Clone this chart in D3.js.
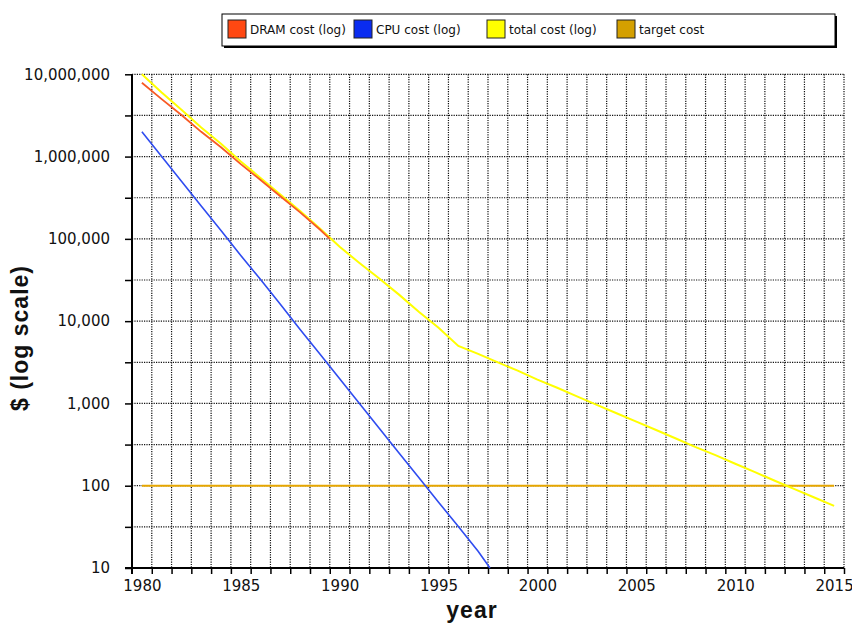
<!DOCTYPE html>
<html>
<head>
<meta charset="utf-8">
<script src="https://cdn.jsdelivr.net/npm/d3@7"></script>
<style>
  body { margin: 0; background: #fff; }
  svg { display: block; }
</style>
</head>
<body>
<script>
// values
var dramYears = [1980, 1981, 1982, 1983, 1984, 1985, 1986, 1987, 1988, 1989, 1989.5];
var dramCost = [7.9e6, 5.0e6, 3.2e6, 2.0e6, 1.3e6, 8.1e5, 5.2e5, 3.3e5, 2.1e5, 1.3e5, 1.0e5];

var cpuYears = [1980, 1981, 1982, 1983, 1984, 1985, 1986, 1987, 1988, 1989, 1990,
  1991, 1992, 1993, 1994, 1995, 1996, 1997, 1997.6];
var cpuCost = [2.0e6, 1.0e6, 5.0e5, 2.5e5, 1.26e5, 6.3e4, 3.2e4, 1.6e4, 7.9e3, 4.0e3, 2.0e3,
  1000, 500, 250, 126, 63, 32, 16, 10];

var totalYears = d3.range(1980, 2016);
var totalCost = [1.0e7, 6.0e6, 3.7e6, 2.25e6, 1.43e6, 8.7e5, 5.5e5, 3.46e5, 2.18e5, 1.34e5,
  8.0e4, 5.1e4, 3.3e4, 2.1e4, 1.3e4, 8.3e3, 5.0e3, 4.0e3, 3.15e3, 2.5e3,
  1950, 1550, 1220, 960, 760, 600, 475, 375, 295, 235,
  185, 146, 115, 91, 72, 57];

var targetYears = [1980, 2015];
var targetCost = [100, 100];

var yearLabels = [1980, 1985, 1990, 1995, 2000, 2005, 2010, 2015];
var costLabels = [10, 100, 1000, 10000, 100000, 1000000, 10000000];

var legendNames = ["DRAM cost (log)", "CPU cost (log)", "total cost (log)", "target cost"];
var legendColors = ["#ff4812", "#0a2cf0", "#ffff00", "#d4a000"];

var width = 852, height = 626;
var plotLeft = 132, plotRight = 844, plotTop = 74.3, plotBottom = 568;

var svg = d3.select("body").append("svg").attr("width", width).attr("height", height);

var x = d3.scaleLinear().domain([1979.5, 2015.5]).range([plotLeft, plotRight]);
var y = d3.scaleLog().domain([10, 1e7]).range([plotBottom, plotTop]);

// band edges and half decades
var edges = d3.range(1980.5, 2016, 1);
var gridVals = [];
costLabels.forEach(function (d) {
  gridVals.push(d);
  if (d < 1e7) gridVals.push(d * Math.sqrt(10));
});

// dotted grid
svg.append("g").selectAll("line").data(edges).enter().append("line")
  .attr("x1", function (d) { return x(d); })
  .attr("x2", function (d) { return x(d); })
  .attr("y1", plotTop)
  .attr("y2", plotBottom)
  .attr("stroke", "#111")
  .attr("stroke-width", 1.2)
  .attr("stroke-dasharray", "1.2,1.2");

svg.append("g").selectAll("line").data(gridVals.filter(function (d) { return d > 10; })).enter().append("line")
  .attr("x1", plotLeft)
  .attr("x2", plotRight)
  .attr("y1", function (d) { return y(d); })
  .attr("y2", function (d) { return y(d); })
  .attr("stroke", "#111")
  .attr("stroke-width", 1.2)
  .attr("stroke-dasharray", "1.2,1.2");

// axes
var yAxis = d3.axisLeft(y)
  .tickValues(gridVals)
  .tickSize(7)
  .tickPadding(15)
  .tickFormat(function (d) { return costLabels.indexOf(d) >= 0 ? d3.format(",")(d) : ""; });

var gy = svg.append("g").attr("transform", "translate(" + plotLeft + ",0)").call(yAxis);
gy.select(".domain").remove();
gy.selectAll(".tick line").attr("stroke", "#000").attr("stroke-width", 1.5);
gy.selectAll(".tick text")
  .attr("font-family", "DejaVu Sans")
  .attr("font-size", 15)
  .attr("fill", "#111");

var xAxis = d3.axisBottom(x)
  .tickValues(edges)
  .tickSize(6)
  .tickFormat("");

var gx = svg.append("g").attr("transform", "translate(0," + plotBottom + ")").call(xAxis);
gx.select(".domain").remove();
gx.selectAll(".tick line").attr("stroke", "#000").attr("stroke-width", 1.5);

var xLab = d3.axisBottom(x).tickValues(yearLabels).tickSize(0).tickPadding(12).tickFormat(d3.format("d"));
var gl = svg.append("g").attr("transform", "translate(0," + plotBottom + ")").call(xLab);
gl.select(".domain").remove();
gl.selectAll(".tick text")
  .attr("font-family", "DejaVu Sans")
  .attr("font-size", 15)
  .attr("fill", "#111");

// axis lines
svg.append("line")
  .attr("x1", plotLeft).attr("y1", plotTop).attr("x2", plotLeft).attr("y2", plotBottom + 6)
  .attr("stroke", "#000").attr("stroke-width", 2);
svg.append("line")
  .attr("x1", plotLeft - 7).attr("y1", plotBottom).attr("x2", plotRight).attr("y2", plotBottom)
  .attr("stroke", "#000").attr("stroke-width", 2);

// series
var line = d3.line()
  .x(function (d) { return x(d[0]); })
  .y(function (d) { return y(d[1]); });

function pairs(a, b) {
  return a.map(function (d, i) { return [d, b[i]]; });
}

svg.append("path").datum(pairs(targetYears, targetCost))
  .attr("d", line).attr("fill", "none").attr("stroke", "#e6a600").attr("stroke-width", 2);
svg.append("path").datum(pairs(totalYears, totalCost))
  .attr("d", line).attr("fill", "none").attr("stroke", "#ffff00").attr("stroke-width", 2);
svg.append("path").datum(pairs(dramYears, dramCost))
  .attr("d", line).attr("fill", "none").attr("stroke", "#f85a24").attr("stroke-width", 1.8);
svg.append("path").datum(pairs(cpuYears, cpuCost))
  .attr("d", line).attr("fill", "none").attr("stroke", "#2f4cf0").attr("stroke-width", 1.6);

// axis titles
svg.append("text")
  .attr("x", 472)
  .attr("y", 618)
  .attr("text-anchor", "middle")
  .attr("font-family", "Liberation Sans")
  .attr("font-weight", "bold")
  .attr("font-size", 23)
  .attr("letter-spacing", 1)
  .attr("fill", "#111")
  .text("year");

svg.append("text")
  .attr("transform", "translate(28,338) rotate(-90)")
  .attr("text-anchor", "middle")
  .attr("font-family", "Liberation Sans")
  .attr("font-weight", "bold")
  .attr("font-size", 23)
  .attr("letter-spacing", 1)
  .attr("fill", "#111")
  .text("$ (log scale)");

// legend
svg.append("rect")
  .attr("x", 224).attr("y", 16).attr("width", 613).attr("height", 32)
  .attr("fill", "#000");
svg.append("rect")
  .attr("x", 222).attr("y", 14).attr("width", 613).attr("height", 32)
  .attr("fill", "#fff").attr("stroke", "#000").attr("stroke-width", 1);

var legendX = [228, 354, 487, 617];
var lg = svg.append("g").selectAll("g").data(legendNames).enter().append("g")
  .attr("transform", function (d, i) { return "translate(" + legendX[i] + ",20)"; });
lg.append("rect")
  .attr("width", 18).attr("height", 18)
  .attr("fill", function (d, i) { return legendColors[i]; })
  .attr("stroke", "#222").attr("stroke-width", 1);
lg.append("text")
  .attr("x", 22)
  .attr("y", 14)
  .attr("font-family", "DejaVu Sans")
  .attr("font-size", 12)
  .attr("fill", "#111")
  .text(function (d) { return d; });
</script>
</body>
</html>
